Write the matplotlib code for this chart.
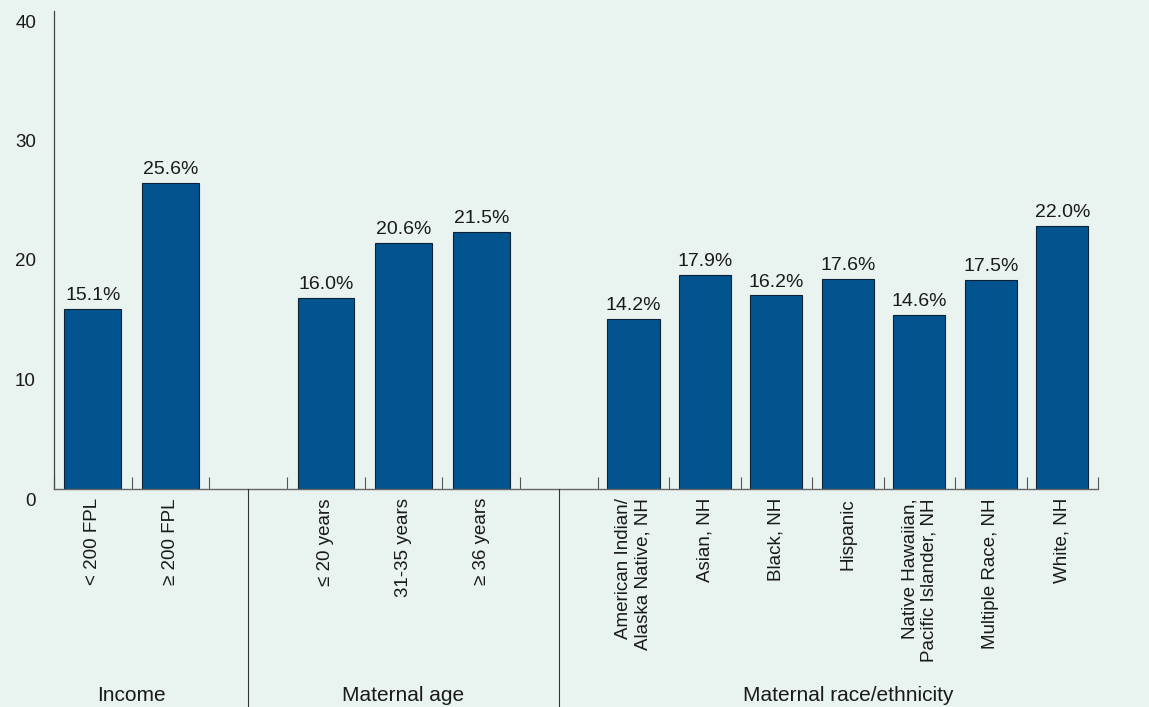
import matplotlib
matplotlib.use("Agg")
import matplotlib.pyplot as plt
from matplotlib.lines import Line2D
from matplotlib.transforms import blended_transform_factory, ScaledTranslation

# data
group_names = ["Income", "Maternal age", "Maternal race/ethnicity"]
income_labels = ["< 200 FPL", "\u2265 200 FPL"]
income_values = [15.1, 25.6]
age_labels = ["\u2264 20 years", "31-35 years", "\u2265 36 years"]
age_values = [16.0, 20.6, 21.5]
race_labels = [
    "American Indian/\nAlaska Native, NH",
    "Asian, NH",
    "Black, NH",
    "Hispanic",
    "Native Hawaiian,\nPacific Islander, NH",
    "Multiple Race, NH",
    "White, NH",
]
race_values = [14.2, 17.9, 16.2, 17.6, 14.6, 17.5, 22.0]
y_ticks = [0, 10, 20, 30, 40]

# layout: slot width per group, empty slot between groups
slot_widths = [1.0, 1.0, 0.92]
gap = 1.0
bar_frac = 0.73

BG = "#e9f3f0"
BAR = "#02548f"
TXT = "#1a1a1a"

plt.rcParams["font.family"] = ["Liberation Sans", "DejaVu Sans"]

W, H, DPI = 1149, 707, 100
fig = plt.figure(figsize=(W / DPI, H / DPI), dpi=DPI, facecolor=BG)
ax = fig.add_axes([54 / W, (H - 489) / H, (1098 - 54) / W, (489 - 11) / H])
ax.set_facecolor(BG)

groups = [
    (income_labels, income_values),
    (age_labels, age_values),
    (race_labels, race_values),
]

centers, labels, edges, separators, group_centers = [], [], [], [], []
x = 0.0
for gi, ((labs, vals), w) in enumerate(zip(groups, slot_widths)):
    if gi > 0:
        separators.append(x + gap / 2)
        x += gap
    gc = []
    for k, (lab, v) in enumerate(zip(labs, vals)):
        c = x + (k + 0.5) * w
        ax.bar(c, v, width=w * bar_frac, color=BAR, edgecolor="#0b2236", linewidth=0.8, zorder=2)
        ax.annotate(f"{v:.1f}%", (c, v), xytext=(0, 3.5), textcoords="offset points",
                    ha="center", va="bottom", fontsize=14, color=TXT)
        centers.append(c)
        labels.append(lab)
        gc.append(c)
    edges += [x + k * w for k in range(len(labs) + 1)]
    group_centers.append(sum(gc) / len(gc))
    x += len(labs) * w

ax.set_xlim(0, x)
ax.set_ylim(0, 40)

for s in ["top", "right"]:
    ax.spines[s].set_visible(False)
ax.spines["left"].set_color("#444444")
ax.spines["left"].set_linewidth(0.9)
ax.spines["bottom"].set_color("#666666")
ax.spines["bottom"].set_linewidth(1.0)

# x category labels
ax.set_xticks(centers)
ax.set_xticklabels(labels, rotation=90, va="top", ha="center", multialignment="right",
                   fontsize=13.5, color=TXT)
ax.set_xticks(edges, minor=True)
ax.tick_params(axis="x", which="major", length=0, pad=6.5)
ax.tick_params(axis="x", which="minor", direction="in", length=8.5, width=0.8, color="#555555")

# y labels sit a little below their gridline positions in the original
ax.set_yticks(y_ticks)
ax.tick_params(axis="y", length=0, labelleft=False)
ylab_tr = blended_transform_factory(ax.transAxes, ax.transData) + \
    ScaledTranslation(-18 / DPI, -12 / DPI, fig.dpi_scale_trans)
for v in y_ticks:
    ax.text(0, v, str(v), transform=ylab_tr, ha="right", va="center", fontsize=13.5, color=TXT)

# group separators and group names below the axis
sep_tr = blended_transform_factory(ax.transData, fig.transFigure)
for s in separators:
    fig.add_artist(Line2D([s, s], [0, (H - 489) / H], transform=sep_tr, color="#333333", linewidth=0.8))
for name, gc in zip(group_names, group_centers):
    fig.text(gc, 6 / H, name, transform=sep_tr, ha="center", va="baseline", fontsize=15, color=TXT)

fig.savefig("out.png", dpi=DPI, facecolor=BG)
